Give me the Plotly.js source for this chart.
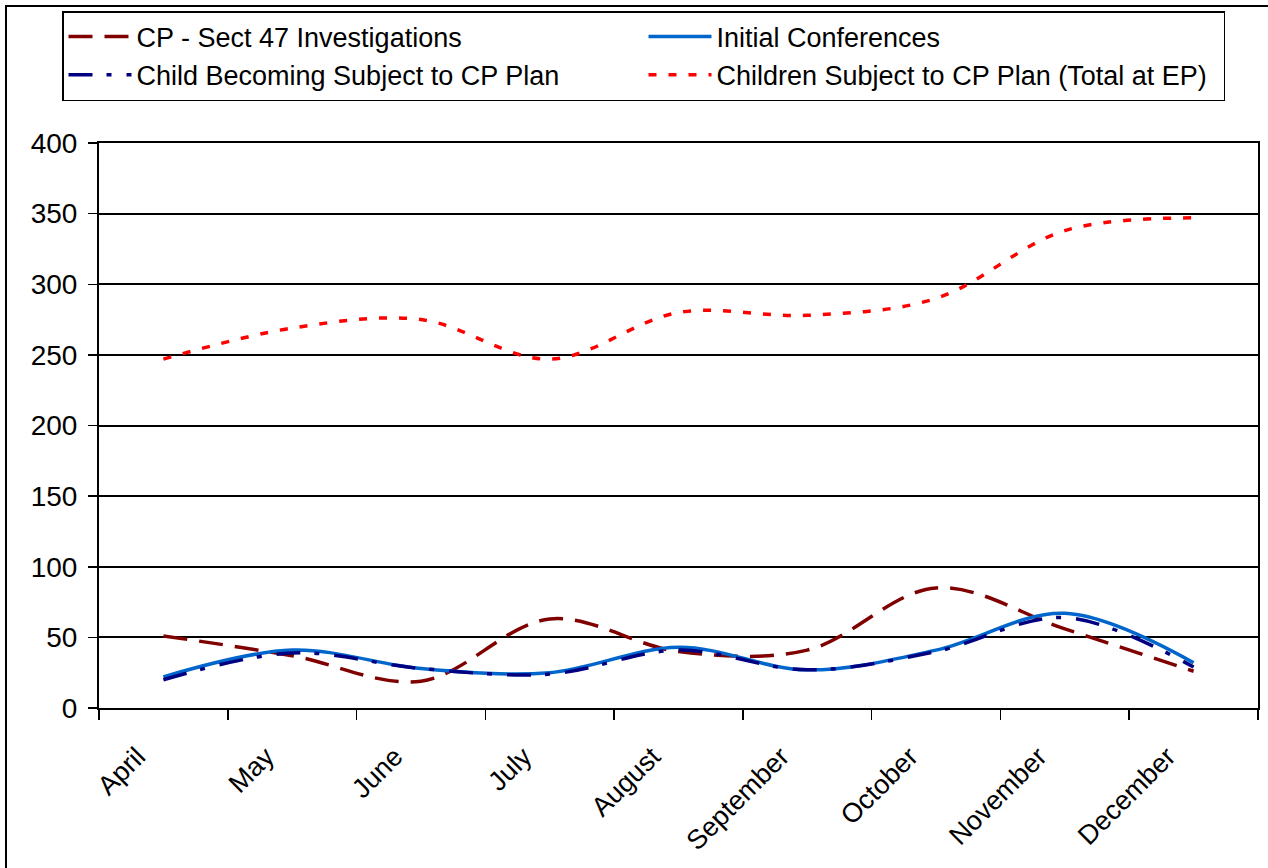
<!DOCTYPE html>
<html>
<head>
<meta charset="utf-8">
<script src="https://cdn.plot.ly/plotly-3.0.1.min.js"></script>
<style>
  html, body { margin: 0; padding: 0; background: #ffffff; }
  #chart { width: 1268px; height: 868px; }
</style>
</head>
<body>
<div id="chart"></div>
<script>
// Categories (x axis)
var months = ['April', 'May', 'June', 'July', 'August', 'September', 'October', 'November', 'December'];

// Series values
var cpSect47 = [51, 37, 19, 63, 40, 41, 85, 56, 26];
var initialConferences = [22, 41, 28, 25, 43, 27, 41, 67, 32];
var childBecomingSubject = [20, 39, 28, 24, 41, 27, 40, 64, 29];
var childrenSubjectTotal = [247, 269, 275, 247, 280, 278, 290, 338, 347];

// Y-axis ticks
var yTicks = [0, 50, 100, 150, 200, 250, 300, 350, 400];

var FONT = 'Liberation Sans, Arial, sans-serif';

var traces = [
  {
    name: 'CP - Sect 47 Investigations',
    x: months, y: cpSect47, type: 'scatter', mode: 'lines',
    line: { color: '#800000', width: 3.5, dash: '24px,12px', shape: 'spline', smoothing: 1 }
  },
  {
    name: 'Initial Conferences',
    x: months, y: initialConferences, type: 'scatter', mode: 'lines',
    line: { color: '#0066CC', width: 3.5, shape: 'spline', smoothing: 1 }
  },
  {
    name: 'Child Becoming Subject to CP Plan',
    x: months, y: childBecomingSubject, type: 'scatter', mode: 'lines',
    line: { color: '#000080', width: 3.5, dash: '24px,14px,5px,15px', shape: 'spline', smoothing: 1 }
  },
  {
    name: 'Children Subject to CP Plan (Total at EP)',
    x: months, y: childrenSubjectTotal, type: 'scatter', mode: 'lines',
    line: { color: '#FF0000', width: 3.5, dash: '8px,12px', shape: 'spline', smoothing: 1 }
  }
];

var L = 99, R = 1258, T = 143, B = 708, W = 1268, H = 868;
function px2x(p) { return (p - L) / (R - L); }
function px2y(p) { return (B - p) / (B - T); }

var layout = {
  width: W, height: H,
  margin: { l: L, r: W - R, t: T, b: H - B, pad: 0 },
  paper_bgcolor: '#ffffff',
  plot_bgcolor: '#ffffff',
  font: { family: FONT, size: 27, color: '#000000' },
  showlegend: true,
  legend: {
    orientation: 'h',
    xref: 'container', yref: 'container',
    x: 62 / W, y: 1 - 11 / H,
    xanchor: 'left', yanchor: 'top',
    bordercolor: '#000000', borderwidth: 1.5,
    bgcolor: '#ffffff',
    font: { family: FONT, size: 27, color: '#000000' },
    itemwidth: 63,
    entrywidth: 502,
    entrywidthmode: 'pixels',
    traceorder: 'normal'
  },
  xaxis: {
    type: 'category',
    range: [-0.5, 8.5],
    tickson: 'boundaries',
    ticks: 'outside', ticklen: 10, tickwidth: 1.5, tickcolor: '#000000',
    showline: true, linecolor: '#000000', linewidth: 2, mirror: true,
    showgrid: false, zeroline: false,
    tickangle: -45,
    ticklabelshift: -26,
    ticklabelstandoff: 20,
    tickfont: { family: FONT, size: 27, color: '#000000' },
    fixedrange: true
  },
  yaxis: {
    range: [0, 400],
    tickvals: yTicks,
    ticktext: yTicks.map(String),
    ticks: 'outside', ticklen: 9, tickwidth: 1.5, tickcolor: '#000000',
    ticklabelstandoff: 5,
    showline: true, linecolor: '#000000', linewidth: 2, mirror: true,
    showgrid: true, gridcolor: '#000000', gridwidth: 2,
    zeroline: false,
    tickfont: { family: FONT, size: 28, color: '#000000' },
    fixedrange: true
  },
  shapes: [
    {
      type: 'rect', xref: 'paper', yref: 'paper',
      x0: px2x(6), x1: px2x(1290), y0: px2y(890), y1: px2y(6),
      line: { color: '#000000', width: 2 }, fillcolor: 'rgba(0,0,0,0)', layer: 'below'
    }
  ]
};

Plotly.newPlot('chart', traces, layout, { displayModeBar: false, staticPlot: true });
</script>
</body>
</html>
